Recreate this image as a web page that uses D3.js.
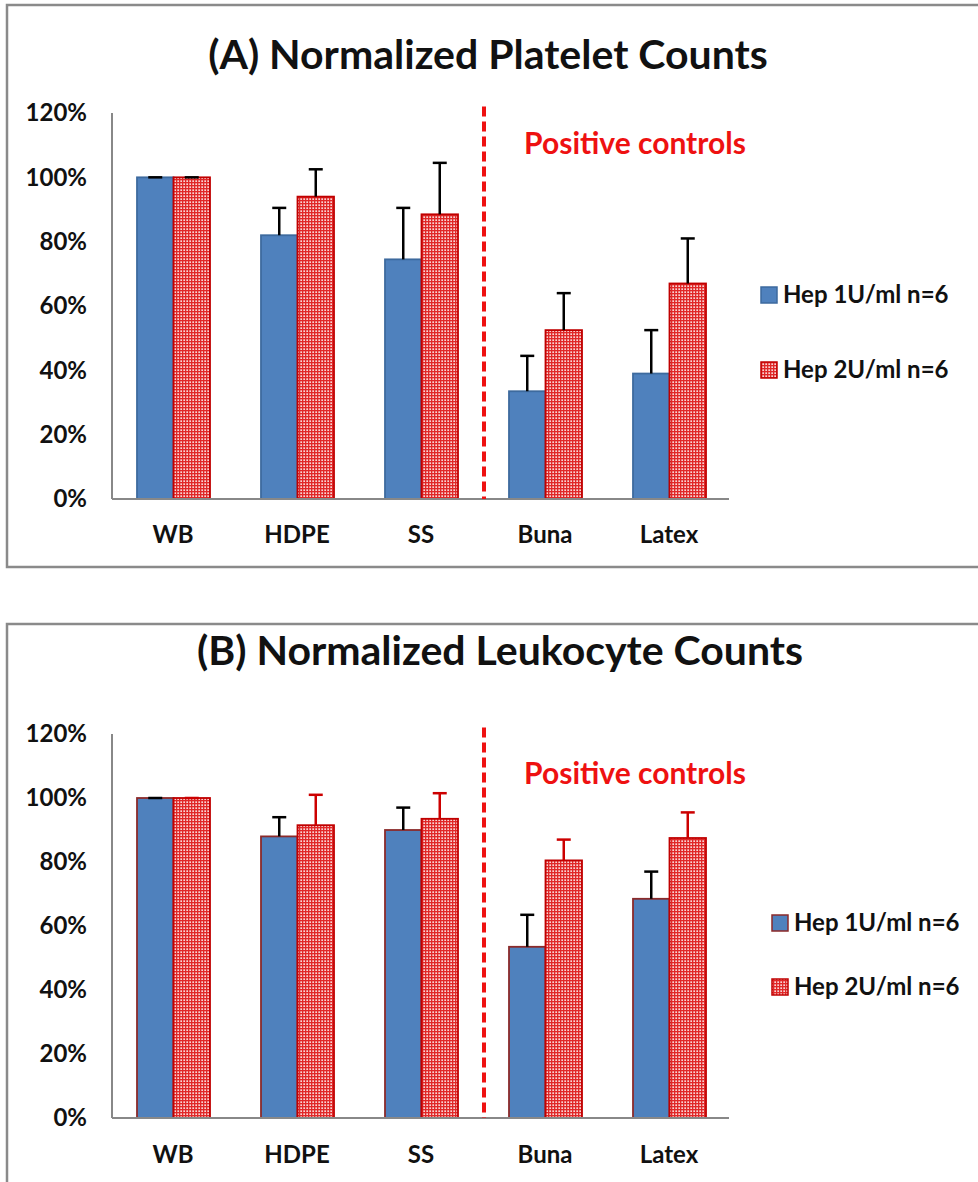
<!DOCTYPE html>
<html>
<head>
<meta charset="utf-8">
<script src="https://cdn.jsdelivr.net/npm/d3@7"></script>
<style>
  body { margin: 0; background: #fff; }
  svg text { font-family: Lato, "Open Sans", sans-serif; font-weight: bold; }
</style>
</head>
<body>
<div id="chart"></div>
<script>
// Datos
const categories = ["WB", "HDPE", "SS", "Buna", "Latex"];
const seriesNames = ["Hep 1U/ml n=6", "Hep 2U/ml n=6"];
const yTicks = [0, 20, 40, 60, 80, 100, 120];

const plateletHep1 = [100, 82, 74.5, 33.5, 39];
const plateletHep1Err = [0, 8.5, 16, 11, 13.5];
const plateletHep2 = [100, 94, 88.5, 52.5, 67];
const plateletHep2Err = [0, 8.5, 16, 11.5, 14];

const leukoHep1 = [100, 88, 90, 53.5, 68.5];
const leukoHep1Err = [0, 6, 7, 10, 8.5];
const leukoHep2 = [100, 91.5, 93.5, 80.5, 87.5];
const leukoHep2Err = [0, 9.5, 8, 6.5, 8];

const width = 978, height = 1182;
const svg = d3.select("#chart").append("svg")
    .attr("width", width)
    .attr("height", height);

// Patron rojo a cuadritos
const defs = svg.append("defs");
const pat = defs.append("pattern")
    .attr("id", "redcheck")
    .attr("patternUnits", "userSpaceOnUse")
    .attr("width", 3).attr("height", 3);
pat.append("rect").attr("width", 3).attr("height", 3).attr("fill", "#e02828");
pat.append("rect").attr("x", 0.4).attr("y", 0.4).attr("width", 1.5).attr("height", 1.5).attr("fill", "#ffffff");

const panels = [
    {
        title: "(A) Normalized Platelet Counts",
        frame: [7, 5, 1000, 562],
        titleX: 488, titleY: 55,
        yRange: [499, 113],
        catY: 535,
        posY: 143,
        legendX: 761, legendY: [295, 370],
        blueStroke: "#3d6a9e",
        redErrColor: "#000",
        values: [plateletHep1, plateletHep2],
        errors: [plateletHep1Err, plateletHep2Err]
    },
    {
        title: "(B) Normalized Leukocyte Counts",
        frame: [7, 624, 1000, 600],
        titleX: 500, titleY: 651,
        yRange: [1118, 734],
        catY: 1155,
        posY: 773,
        legendX: 772, legendY: [923, 987],
        blueStroke: "#8b2a2a",
        redErrColor: "#cc0000",
        values: [leukoHep1, leukoHep2],
        errors: [leukoHep1Err, leukoHep2Err]
    }
];

const x = d3.scaleBand().domain(categories).range([112, 732]).padding(0);
const xInner = d3.scaleBand().domain(seriesNames).range([25, 98]).padding(0);

panels.forEach(p => {
    const g = svg.append("g");

    // Marco
    g.append("rect")
        .attr("x", p.frame[0]).attr("y", p.frame[1])
        .attr("width", p.frame[2]).attr("height", p.frame[3])
        .attr("fill", "none")
        .attr("stroke", "#8a8a8a")
        .attr("stroke-width", 2.5);

    // Titulo
    g.append("text")
        .attr("x", p.titleX).attr("y", p.titleY)
        .attr("dy", "0.35em")
        .attr("text-anchor", "middle")
        .style("font-size", "41px")
        .attr("fill", "#111")
        .text(p.title);

    const y = d3.scaleLinear().domain([0, 120]).range(p.yRange);

    // Eje Y
    g.append("line")
        .attr("x1", 112).attr("x2", 112)
        .attr("y1", y(120)).attr("y2", y(0))
        .attr("stroke", "#888").attr("stroke-width", 2);

    g.selectAll(".ytick")
        .data(yTicks)
        .enter()
        .append("text")
        .attr("x", 87)
        .attr("y", d => y(d))
        .attr("dy", "0.35em")
        .attr("text-anchor", "end")
        .style("font-size", "24px")
        .attr("fill", "#111")
        .text(d => d + "%");

    // Barras
    const fills = ["#4f81bd", "url(#redcheck)"];
    const strokes = [p.blueStroke, "#c00000"];
    const errColors = ["#000", p.redErrColor];

    seriesNames.forEach((s, si) => {
        g.selectAll(".bar" + si)
            .data(categories)
            .enter()
            .append("rect")
            .attr("x", d => x(d) + xInner(s))
            .attr("y", (d, i) => y(p.values[si][i]))
            .attr("width", xInner.bandwidth())
            .attr("height", (d, i) => y(0) - y(p.values[si][i]))
            .attr("fill", fills[si])
            .attr("stroke", strokes[si])
            .attr("stroke-width", 1.8);
    });

    // Barras de error (solo hacia arriba)
    seriesNames.forEach((s, si) => {
        categories.forEach((c, i) => {
            const cx = x(c) + xInner(s) + xInner.bandwidth() / 2;
            const top = y(p.values[si][i] + p.errors[si][i]);
            const base = y(p.values[si][i]);
            g.append("line")
                .attr("x1", cx).attr("x2", cx)
                .attr("y1", base).attr("y2", top)
                .attr("stroke", errColors[si]).attr("stroke-width", 2.5);
            g.append("line")
                .attr("x1", cx - 7).attr("x2", cx + 7)
                .attr("y1", top).attr("y2", top)
                .attr("stroke", errColors[si]).attr("stroke-width", 2.5);
        });
    });

    // Linea base
    g.append("line")
        .attr("x1", 112).attr("x2", 729)
        .attr("y1", y(0)).attr("y2", y(0))
        .attr("stroke", "#888").attr("stroke-width", 2);

    // Etiquetas de categorias
    g.selectAll(".cat")
        .data(categories)
        .enter()
        .append("text")
        .attr("x", d => x(d) + x.bandwidth() / 2 - 1)
        .attr("y", p.catY)
        .attr("dy", "0.35em")
        .attr("text-anchor", "middle")
        .style("font-size", "24px")
        .attr("fill", "#111")
        .text(d => d);

    // Linea discontinua de controles positivos
    const dashX = x("Buna");
    g.append("line")
        .attr("x1", dashX).attr("x2", dashX)
        .attr("y1", y(122)).attr("y2", y(0))
        .attr("stroke", "#ee1111")
        .attr("stroke-width", 4)
        .attr("stroke-dasharray", "10,5");

    g.append("text")
        .attr("x", 635).attr("y", p.posY)
        .attr("dy", "0.35em")
        .attr("text-anchor", "middle")
        .style("font-size", "30px")
        .attr("fill", "#ee1111")
        .text("Positive controls");

    // Leyenda
    seriesNames.forEach((s, si) => {
        g.append("rect")
            .attr("x", p.legendX)
            .attr("y", p.legendY[si] - 8)
            .attr("width", 16).attr("height", 16)
            .attr("fill", fills[si])
            .attr("stroke", strokes[si])
            .attr("stroke-width", 1.5);
        g.append("text")
            .attr("x", p.legendX + 22)
            .attr("y", p.legendY[si])
            .attr("dy", "0.35em")
            .style("font-size", "24px")
            .attr("fill", "#111")
            .text(s);
    });
});
</script>
</body>
</html>
